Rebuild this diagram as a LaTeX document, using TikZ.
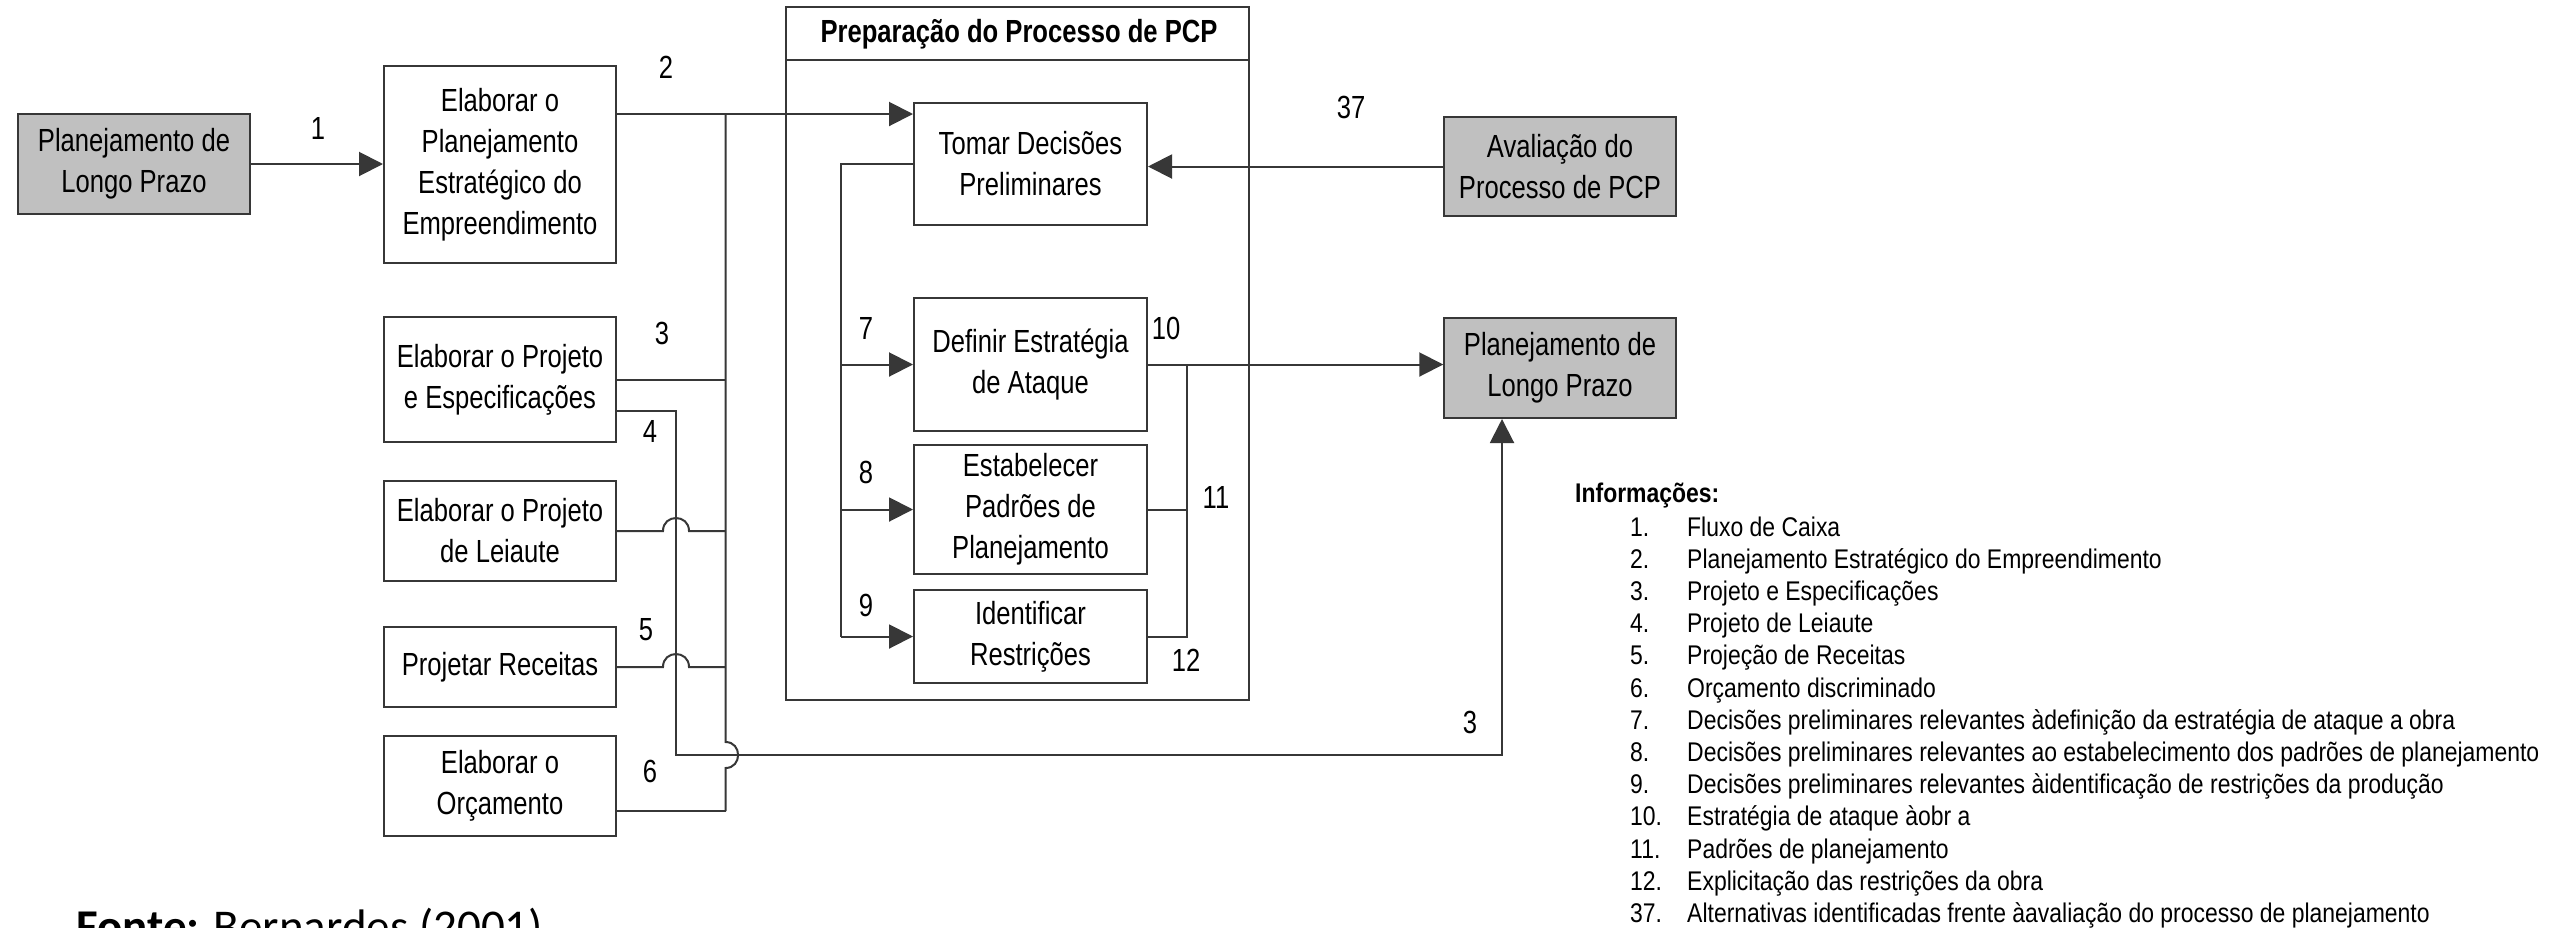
\documentclass[tikz,border=0pt]{standalone}
\usepackage{fontspec}
\setmainfont{Liberation Sans}[FakeStretch=0.80]
\newfontfamily\legendfont{Liberation Sans}[FakeStretch=0.85]
\newfontfamily\sourcefont{Carlito}
\usetikzlibrary{arrows.meta,calc}
\definecolor{lineclr}{RGB}{55,55,55}
\definecolor{boxgray}{RGB}{192,192,192}
\newcommand\diagfont{\fontsize{32}{41}\selectfont}
\newcommand\keyfont{\legendfont\fontsize{27}{32}\selectfont}

\begin{document}
\begin{tikzpicture}[x=1pt,y=-1pt,
  line/.style={draw=lineclr,line width=2pt},
  arr/.style={line,-{Triangle[length=24pt,width=24pt]}},
  box/.style={draw=lineclr,line width=2pt,fill=white,inner sep=0pt,
    align=center,font=\diagfont,minimum width=232pt},
  ext/.style={box,fill=boxgray},
  lbl/.style={inner sep=0pt,font=\diagfont},
  keyitem/.style={inner sep=0pt,anchor=base west,font=\keyfont}]

\path[use as bounding box,clip] (0,0) rectangle (2549,927);
\fill[white] (0,0) rectangle (2549,927);

% process frame with its title bar
\draw[line] (786,7) rectangle (1249,700);
\draw[line] (786,60) -- (1249,60);
\node[inner sep=0pt,font=\diagfont\bfseries] (title) at (1019,34) {Preparação do Processo de PCP};

% boxes on the left
\node[ext,minimum height=100pt] (lp1) at (134,164) {Planejamento de\\Longo Prazo};
\node[box,minimum height=197pt] (ep) at (500,164.5) {Elaborar o\\Planejamento\\Estratégico do\\Empreendimento};
\node[box,minimum height=125pt] (pe) at (500,379.5) {Elaborar o Projeto\\e Especificações};
\node[box,minimum height=100pt] (pl) at (500,531) {Elaborar o Projeto\\de Leiaute};
\node[box,minimum height=80pt] (pr) at (500,667) {Projetar Receitas};
\node[box,minimum height=100pt] (po) at (500,786) {Elaborar o\\Orçamento};

% activities inside the frame
\node[box,minimum width=233pt,minimum height=122pt] (td) at (1030.5,164) {Tomar Decisões\\Preliminares};
\node[box,minimum width=233pt,minimum height=133pt] (de) at (1030.5,364.5) {Definir Estratégia\\de Ataque};
\node[box,minimum width=233pt,minimum height=129pt] (es) at (1030.5,509.5) {Estabelecer\\Padrões de\\Planejamento};
\node[box,minimum width=233pt,minimum height=93pt] (ir) at (1030.5,636.5) {Identificar\\Restrições};

% boxes on the right
\node[ext,minimum width=231.5pt,minimum height=99pt] (av) at (1560,166.5) {Avaliação do\\Processo de PCP};
\node[ext,minimum width=231.5pt,minimum height=100pt] (lp2) at (1560,368) {Planejamento de\\Longo Prazo};

% routing points
\coordinate (busT) at (725.5,114);
\coordinate (busB) at (725.5,811);
\coordinate (j4) at (676,411);
\coordinate (k4) at (676,755);
\coordinate (u4) at (1502,755);
\coordinate (lbus) at (840.7,164);
\coordinate (rbus) at (1187,364.5);

% inputs
\draw[arr] (lp1.east) -- (lp1.east -| ep.west);
\draw[arr] (ep.east |- busT) -- (td.west |- busT);
\draw[line] (busT) -- (725.5,742) .. controls (742.3,742) and (742.3,768) .. (725.5,768) -- (busB);
\draw[line] (pe.east) -- (pe.east -| busT);
\draw[line] (pl.east) -- (663,531) .. controls (663,513.7) and (689,513.7) .. (689,531) -- (pl.east -| busT);
\draw[line] (pr.east) -- (663,667) .. controls (663,649.7) and (689,649.7) .. (689,667) -- (pr.east -| busT);
\draw[line] (po.east |- busB) -- (busB);
\draw[arr] (pe.east |- j4) -- (j4) -- (k4) -- (u4) -- (u4 |- lp2.south);

% decisions feeding the activities
\draw[line] (td.west) -- (lbus) -- (lbus |- ir.west);
\draw[arr] (lbus |- de.west) -- (de.west);
\draw[arr] (lbus |- es.west) -- (es.west);
\draw[arr] (lbus |- ir.west) -- (ir.west);

% outputs
\draw[arr] (de.east) -- (de.east -| lp2.west);
\draw[line] (rbus) -- (rbus |- ir.east) -- (ir.east);
\draw[line] (es.east) -- (es.east -| rbus);
\draw[arr] (av.west) -- (av.west -| td.east);

% flow numbers
\node[lbl] (n1) at (318,128) {1};
\node[lbl] (n2) at (666,67) {2};
\node[lbl] (n3) at (662,333) {3};
\node[lbl] (n4) at (650,431) {4};
\node[lbl] (n5) at (646,630) {5};
\node[lbl] (n6) at (650,771) {6};
\node[lbl] (n7) at (866,328) {7};
\node[lbl] (n8) at (866,472) {8};
\node[lbl] (n9) at (866,605) {9};
\node[lbl] (n10) at (1166,328) {10};
\node[lbl] (n11) at (1216,497) {11};
\node[lbl] (n12) at (1186,660) {12};
\node[lbl] (n37) at (1351,107) {37};
\node[lbl] (n3b) at (1470,722) {3};

% key to the numbers
\node[keyitem,font=\keyfont\bfseries] (keyhead) at (1575,502) {Informações:};
\foreach \n/\t [count=\i] in {
  1./Fluxo de Caixa,
  2./Planejamento Estratégico do Empreendimento,
  3./Projeto e Especificações,
  4./Projeto de Leiaute,
  5./Projeção de Receitas,
  6./Orçamento discriminado,
  7./Decisões preliminares relevantes àdefinição da estratégia de ataque a obra,
  8./Decisões preliminares relevantes ao estabelecimento dos padrões de planejamento,
  9./Decisões preliminares relevantes àidentificação de restrições da produção,
  10./Estratégia de ataque àobr a,
  11./Padrões de planejamento,
  12./Explicitação das restrições da obra,
  37./Alternativas identificadas frente àavaliação do processo de planejamento}{
  \node[keyitem] (keyn\i) at (1630,{536+(\i-1)*32.2}) {\n};
  \node[keyitem] (keyt\i) at (1687,{536+(\i-1)*32.2}) {\t};
}

% source line
\node[inner sep=0pt,anchor=base west,font=\sourcefont\fontsize{47}{56}\selectfont] (src) at (76,942) {\textbf{Fonte:} Bernardes (2001)};
\end{tikzpicture}
\end{document}
